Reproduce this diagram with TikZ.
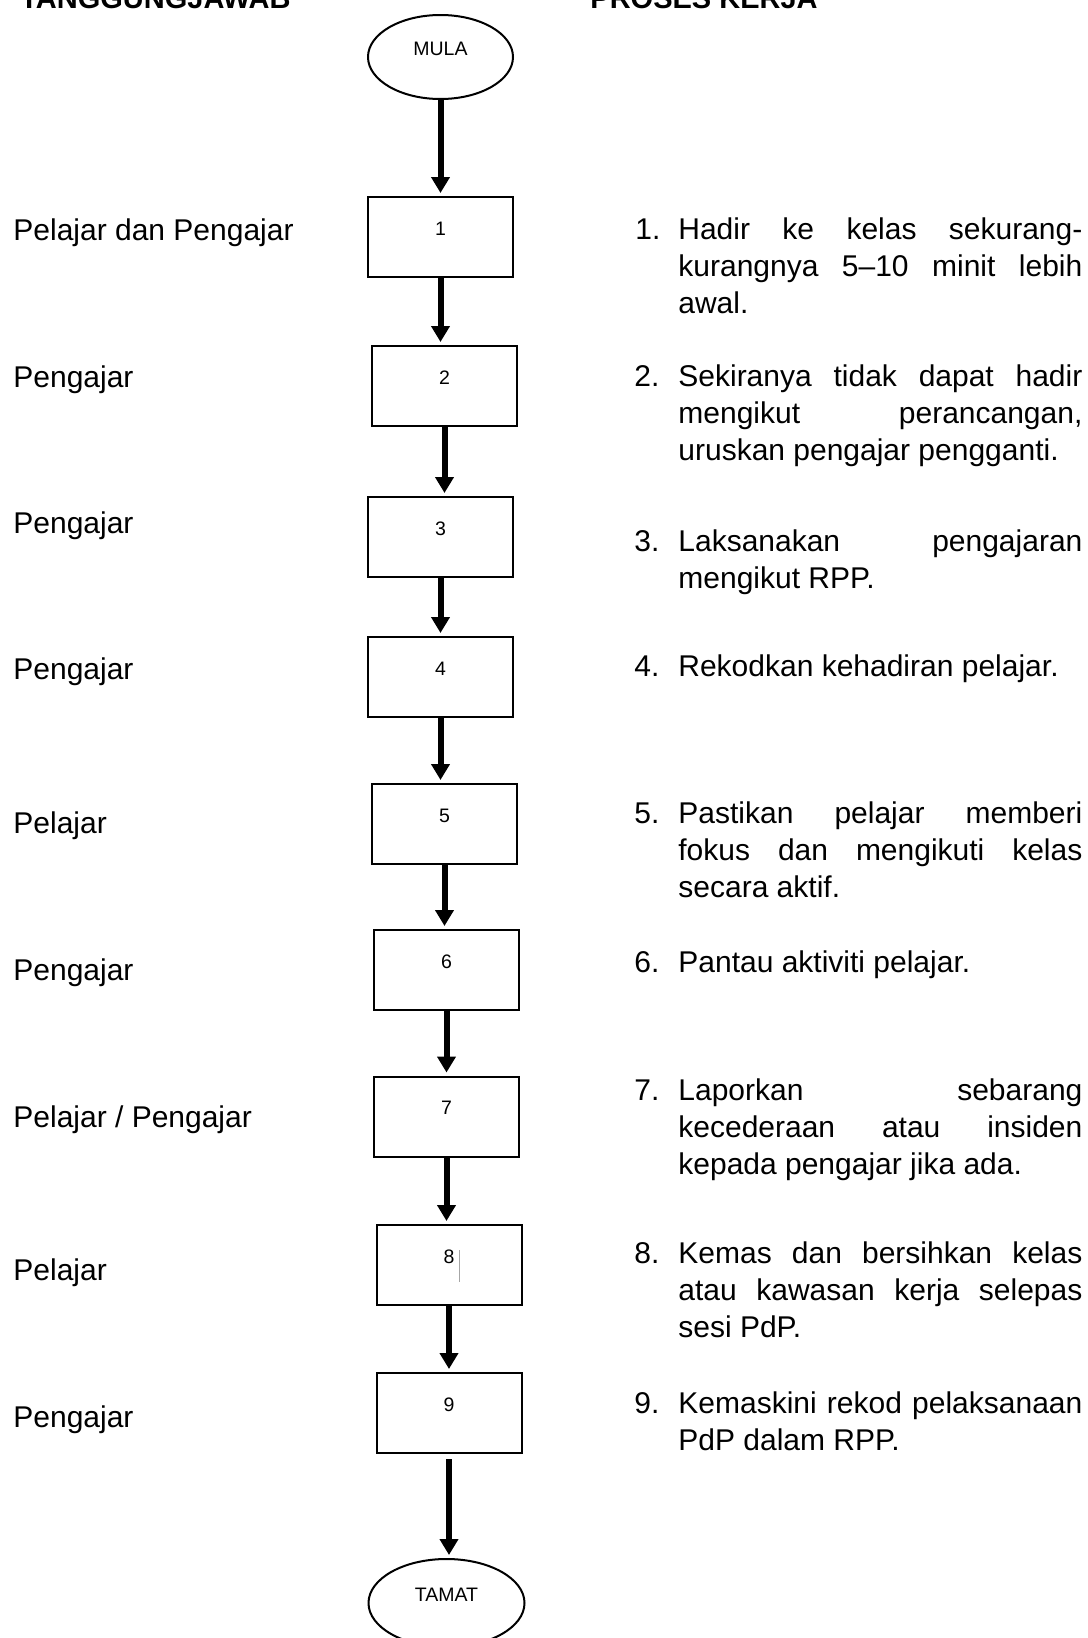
\documentclass[tikz,border=0pt]{standalone}
\usepackage{fontspec}
\setmainfont{Liberation Sans}
\usetikzlibrary{arrows.meta,shapes.geometric}

% width of the justified description column
\newlength\itemw
\setlength\itemw{202pt}
% a fully justified line and a last (natural width) line
\newcommand\jl[1]{\hbox to \itemw{\spaceskip=\fontdimen2\font plus 1fil\relax #1}}
\newcommand\nl[1]{\hbox{#1}}

\begin{document}
\begin{tikzpicture}[x=0.5pt,y=-0.5pt,
  body/.style={font=\fontsize{15}{18.5}\selectfont, inner sep=0pt, anchor=base west},
  head/.style={font=\fontsize{14.5}{17}\selectfont\bfseries, inner sep=0pt, anchor=base west},
  stepbox/.style={draw, line width=1pt, minimum width=72.5pt, minimum height=40pt,
    inner sep=0pt, font=\fontsize{9.75}{11}\selectfont, text height=7pt, text depth=9pt},
  terminal/.style={draw, ellipse, line width=1pt, inner sep=0pt,
    font=\fontsize{9.75}{11}\selectfont, text height=7pt, text depth=9pt},
  flow/.style={line width=3pt, -{Triangle[width=9pt,length=8pt]}, shorten >=1.5pt}
]
\useasboundingbox (0,0) rectangle (1087,1638);
\clip (0,0) rectangle (1087,1638);

% column headings
\node[head] (hL) at (20,9) {TANGGUNGJAWAB};
\node[head] (hR) at (590,9) {PROSES KERJA};

% start / end terminals
\node[terminal, minimum width=72.5pt, minimum height=42pt] (mula) at (440.5,57) {MULA};
\node[terminal, minimum width=78pt, minimum height=44pt] (tamat) at (446.5,1603) {TAMAT};

% process steps
\node[stepbox] (b1) at (440.5,237) {1};
\node[stepbox] (b2) at (444.5,386) {2};
\node[stepbox] (b3) at (440.5,537) {3};
\node[stepbox] (b4) at (440.5,677) {4};
\node[stepbox] (b5) at (444.5,824) {5};
\node[stepbox] (b6) at (446.5,970) {6};
\node[stepbox] (b7) at (446.5,1116.5) {7};
\node[stepbox] (b8) at (449,1265) {8};
\node[stepbox] (b9) at (449,1413) {9};

% text cursor left in step 8
\draw[gray!70, line width=0.5pt] (459,1250) -- (459,1282);

% flow arrows
\draw[flow] (mula.south) -- (mula.south |- b1.north);
\foreach \a/\b in {b1/b2,b2/b3,b3/b4,b4/b5,b5/b6,b6/b7,b7/b8,b8/b9}
  \draw[flow] (\a.south) -- (\a.south |- \b.north);
\draw[flow, shorten <=2.5pt] (b9.south) -- (b9.south |- tamat.north);

% responsibilities
\node[body] (r1) at (13,240) {Pelajar dan Pengajar};
\node[body] (r2) at (13,387) {Pengajar};
\node[body] (r3) at (13,533) {Pengajar};
\node[body] (r4) at (13,679) {Pengajar};
\node[body] (r5) at (13,833) {Pelajar};
\node[body] (r6) at (13,980) {Pengajar};
\node[body] (r7) at (13,1127) {Pelajar / Pengajar};
\node[body] (r8) at (13,1280) {Pelajar};
\node[body] (r9) at (13,1427) {Pengajar};

% work process descriptions
\node[body] (n1) at (635,239) {1.};
\node[body] (t1) at (678,239) {\vtop{\jl{Hadir ke kelas sekurang-}\jl{kurangnya 5–10 minit lebih}\nl{awal.}}};
\node[body] (n2) at (634,386) {2.};
\node[body] (t2) at (678,386) {\vtop{\jl{Sekiranya tidak dapat hadir}\jl{mengikut perancangan,}\nl{uruskan pengajar pengganti.}}};
\node[body] (n3) at (634,551) {3.};
\node[body] (t3) at (678,551) {\vtop{\jl{Laksanakan pengajaran}\nl{mengikut RPP.}}};
\node[body] (n4) at (634,676) {4.};
\node[body] (t4) at (678,676) {\vtop{\nl{Rekodkan kehadiran pelajar.}}};
\node[body] (n5) at (634,823) {5.};
\node[body] (t5) at (678,823) {\vtop{\jl{Pastikan pelajar memberi}\jl{fokus dan mengikuti kelas}\nl{secara aktif.}}};
\node[body] (n6) at (634,972) {6.};
\node[body] (t6) at (678,972) {\vtop{\nl{Pantau aktiviti pelajar.}}};
\node[body] (n7) at (634,1100) {7.};
\node[body] (t7) at (678,1100) {\vtop{\jl{Laporkan sebarang}\jl{kecederaan atau insiden}\nl{kepada pengajar jika ada.}}};
\node[body] (n8) at (634,1263) {8.};
\node[body] (t8) at (678,1263) {\vtop{\jl{Kemas dan bersihkan kelas}\jl{atau kawasan kerja selepas}\nl{sesi PdP.}}};
\node[body] (n9) at (634,1413) {9.};
\node[body] (t9) at (678,1413) {\vtop{\jl{Kemaskini rekod pelaksanaan}\nl{PdP dalam RPP.}}};
\end{tikzpicture}
\end{document}
